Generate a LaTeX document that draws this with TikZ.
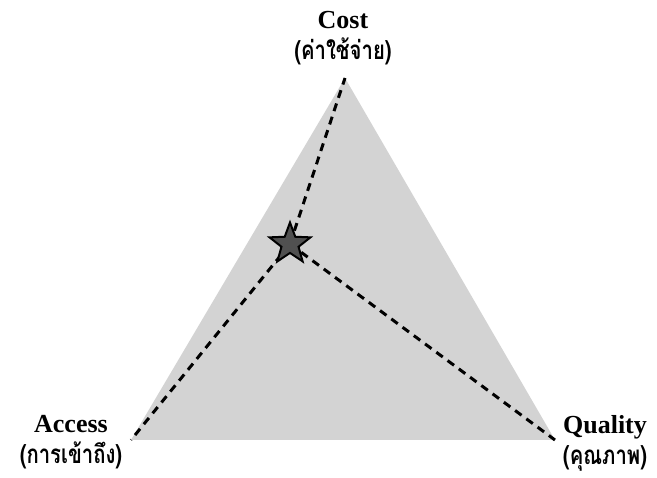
\documentclass[tikz,border=0pt]{standalone}
\usepackage{fontspec}
\setmainfont{Liberation Serif}
\newfontfamily\thaifont[Script=Thai, FakeStretch=0.78]{Loma}
\usetikzlibrary{shapes.geometric}
\definecolor{trigrey}{RGB}{211, 211, 211}
\definecolor{stargrey}{RGB}{80, 80, 80}

\begin{document}
\begin{tikzpicture}[x=1pt, y=-1pt]
        \useasboundingbox (0, 0) rectangle (657, 478);
        \tikzset{
            corner/.style={font=\fontsize{26}{31}\selectfont\bfseries, align=center},
            spoke/.style={line width=3pt, dash pattern=on 8pt off 6pt}
        }
        % Triangle corners
        \coordinate (cost) at (345, 78);
        \coordinate (access) at (131, 440);
        \coordinate (quality) at (555, 440);
        \fill[trigrey] (cost) -- (access) -- (quality) -- cycle;

        % Spokes from the chosen point
        \coordinate (choice) at (290, 244);
        \draw[spoke] (choice) -- (cost);
        \draw[spoke] (choice) -- (access);
        \draw[spoke] (choice) -- (quality);
        \node[star, star points=5, star point ratio=2.4, minimum size=43pt, inner sep=0pt,
              fill=stargrey, draw=black, line width=2pt] (mark) at (choice) {};

        % Labels
        \node[corner] (costlabel) at (343, 38) {Cost\\{\thaifont(ค่าใช้จ่าย)}};
        \node[corner] (accesslabel) at (71, 442) {Access\\{\thaifont(การเข้าถึง)}};
        \node[corner] (qualitylabel) at (605, 443) {Quality\\{\thaifont(คุณภาพ)}};
\end{tikzpicture}
\end{document}
